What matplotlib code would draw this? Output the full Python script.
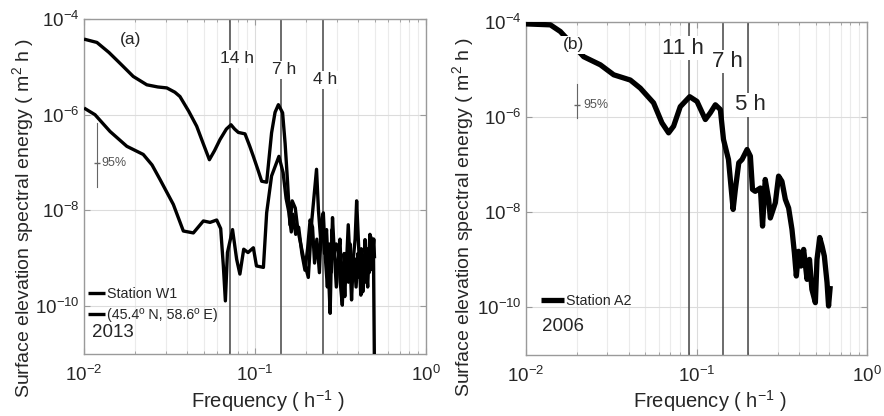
import numpy as np
import matplotlib
matplotlib.use("Agg")
import matplotlib.pyplot as plt
from matplotlib.ticker import FixedLocator, NullFormatter, LogLocator, NullLocator

plt.rcParams['font.family'] = ['Liberation Sans', 'DejaVu Sans']
plt.rcParams['mathtext.fontset'] = 'custom'
plt.rcParams['mathtext.rm'] = 'Liberation Sans'
plt.rcParams['mathtext.it'] = 'Liberation Sans:italic'

# ---- Station W1 (2013): two spectra, frequency in 1/h, log10 energy in m^2 h
w1_hi_freq = [0.0100, 0.0119, 0.0140, 0.0165, 0.0194, 0.0233, 0.0270, 0.0305, 0.0340,
              0.0364, 0.0410, 0.0456, 0.0500, 0.0541, 0.0580, 0.0624, 0.0680, 0.0724,
              0.0760, 0.0799, 0.0874, 0.0930, 0.0978, 0.1040, 0.1094, 0.1170, 0.1250,
              0.1310, 0.1370, 0.1450, 0.1500, 0.1550, 0.1600, 0.1650, 0.1720, 0.1780,
              0.1850, 0.1950, 0.2050, 0.2150, 0.2290, 0.2350, 0.2420, 0.2480, 0.2550,
              0.2620, 0.2690, 0.2750, 0.2820, 0.2900, 0.2980, 0.3070, 0.3150, 0.3240,
              0.3320, 0.3400, 0.3510, 0.3600, 0.3670, 0.3760, 0.3850, 0.3930, 0.4020,
              0.4100, 0.4160, 0.4250, 0.4340, 0.4400, 0.4480, 0.4560, 0.4640, 0.4700,
              0.4780, 0.4850, 0.4920, 0.5000]
w1_hi_log = [-4.42, -4.49, -4.70, -4.95, -5.20, -5.375, -5.42, -5.44, -5.53,
             -5.62, -5.93, -6.24, -6.62, -6.94, -6.75, -6.52, -6.30, -6.21,
             -6.30, -6.37, -6.40, -6.65, -6.87, -7.15, -7.39, -7.41, -6.38,
             -5.95, -5.79, -5.96, -6.60, -7.40, -8.30, -7.80, -7.95, -8.40,
             -8.70, -9.10, -9.40, -8.20, -7.14, -8.00, -8.60, -8.30, -8.90,
             -8.40, -9.30, -10.15, -8.40, -9.00, -8.70, -8.75, -9.50, -9.98,
             -8.90, -9.40, -8.30, -9.10, -9.87, -9.00, -8.60, -7.80, -8.60,
             -9.30, -9.77, -9.00, -9.50, -8.61, -9.20, -9.60, -8.90, -8.50,
             -9.00, -9.24, -8.60, -11.50]

w1_lo_freq = [0.0100, 0.0116, 0.0142, 0.0178, 0.0222, 0.0250, 0.0278, 0.0333, 0.0381,
              0.0436, 0.0499, 0.0546, 0.0597, 0.0630, 0.0653, 0.0671, 0.0690, 0.0739,
              0.0781, 0.0816, 0.0859, 0.0910, 0.0978, 0.1020, 0.1120, 0.1170, 0.1250,
              0.1380, 0.1460, 0.1520, 0.1580, 0.1630, 0.1670, 0.1730, 0.1800, 0.1880,
              0.1960, 0.2030, 0.2100, 0.2170, 0.2230, 0.2300, 0.2380, 0.2450, 0.2510,
              0.2580, 0.2650, 0.2710, 0.2780, 0.2840, 0.2910, 0.2990, 0.3060, 0.3140,
              0.3200, 0.3280, 0.3350, 0.3430, 0.3520, 0.3600, 0.3700, 0.3800, 0.3900,
              0.4000, 0.4080, 0.4180, 0.4270, 0.4350, 0.4450, 0.4550, 0.4650, 0.4750,
              0.4850, 0.4950, 0.5000]
w1_lo_log = [-5.86, -6.00, -6.35, -6.66, -6.83, -7.05, -7.35, -7.875, -8.43,
             -8.47, -8.22, -8.25, -8.20, -8.38, -9.16, -9.89, -8.88, -8.40,
             -9.02, -9.33, -8.81, -8.88, -8.78, -9.16, -9.19, -8.05, -7.28,
             -6.87, -7.21, -7.75, -8.05, -8.45, -8.08, -8.50, -8.35, -8.90,
             -9.25, -8.80, -8.20, -8.35, -9.10, -8.60, -9.30, -8.20, -8.05,
             -9.00, -9.60, -8.70, -9.30, -8.15, -8.90, -9.60, -9.00, -8.60,
             -9.40, -9.10, -9.80, -8.90, -9.50, -8.70, -9.30, -9.00, -9.60,
             -8.90, -9.40, -8.80, -9.70, -9.10, -9.50, -8.80, -9.30, -8.55,
             -9.00, -8.60, -9.00]

# ---- Station A2 (2006)
a2_freq = [0.0100, 0.0139, 0.0159, 0.0218, 0.0273, 0.0327, 0.0409, 0.0468, 0.0560,
           0.0627, 0.0686, 0.0734, 0.0803, 0.0912, 0.1007, 0.1127, 0.1205, 0.1290,
           0.1380, 0.1440, 0.1540, 0.1640, 0.1690, 0.1770, 0.1850, 0.1980, 0.2070,
           0.2130, 0.2210, 0.2370, 0.2440, 0.2530, 0.2650, 0.2710, 0.2900, 0.3030,
           0.3170, 0.3320, 0.3470, 0.3630, 0.3750, 0.3850, 0.3970, 0.4100, 0.4250,
           0.4450, 0.4600, 0.4750, 0.4980, 0.5090, 0.5280, 0.5450, 0.5620, 0.5830,
           0.5950, 0.6090]
a2_log = [-4.04, -4.06, -4.20, -4.73, -4.90, -5.11, -5.22, -5.39, -5.70,
          -6.12, -6.33, -6.19, -5.78, -5.57, -5.67, -6.05, -5.91, -5.74,
          -5.84, -6.47, -6.89, -7.94, -7.52, -6.96, -6.89, -6.68, -6.82,
          -7.52, -7.56, -7.49, -8.29, -7.31, -7.73, -8.12, -7.80, -7.24,
          -7.35, -7.73, -7.91, -8.36, -8.85, -9.34, -8.82, -9.13, -8.78,
          -9.41, -8.99, -9.62, -9.90, -8.99, -8.53, -8.71, -8.92, -9.48,
          -9.97, -9.55]

periods_a = [14, 7, 4]
periods_b = [11, 7, 5]

FIG_W, FIG_H = 884, 416
fig = plt.figure(figsize=(FIG_W / 100, FIG_H / 100), dpi=100)


def px_axes(l, t, r, b):
    return fig.add_axes([l / FIG_W, 1 - b / FIG_H, (r - l) / FIG_W, (b - t) / FIG_H])


ax_a = px_axes(84, 19, 426, 354)
ax_b = px_axes(526, 22, 867, 355)

SPINE = '#9a9a9a'
TXT = '#262626'

for ax in (ax_a, ax_b):
    ax.set_xscale('log')
    ax.set_yscale('log')
    ax.set_xlim(1e-2, 1e0)
    ax.set_ylim(1e-11, 1e-4)
    ax.yaxis.set_major_locator(FixedLocator([1e-10, 1e-8, 1e-6, 1e-4]))
    ax.yaxis.set_minor_locator(NullLocator())
    ax.xaxis.set_major_locator(FixedLocator([1e-2, 1e-1, 1e0]))
    ax.xaxis.set_minor_locator(LogLocator(base=10, subs=np.arange(2, 10)))
    ax.xaxis.set_minor_formatter(NullFormatter())
    ax.grid(True, which='major', color='#dcdcdc', lw=0.8)
    ax.grid(True, which='minor', axis='x', color='#ebebeb', lw=0.8)
    ax.set_axisbelow(True)
    for s in ax.spines.values():
        s.set_color(SPINE)
        s.set_linewidth(1.0)
    ax.tick_params(which='both', direction='in', top=True, right=True,
                   color=SPINE, labelcolor=TXT, labelsize=13.5)
    ax.tick_params(axis='x', pad=8)
    ax.tick_params(axis='y', pad=3)
    ax.tick_params(which='major', length=4)
    ax.tick_params(which='minor', length=2)

line_kw = dict(color='black', solid_joinstyle='round', solid_capstyle='butt', zorder=3)

# ---- panel (a)
l1, = ax_a.plot(w1_hi_freq, 10.0 ** np.array(w1_hi_log), lw=2.4, **line_kw)
l2, = ax_a.plot(w1_lo_freq, 10.0 ** np.array(w1_lo_log), lw=2.4, **line_kw)
for p in periods_a:
    ax_a.axvline(1.0 / p, color='#444444', lw=1.1, zorder=2)

lbl_kw = dict(ha='center', va='center', fontsize=12.5, color=TXT, zorder=5,
              bbox=dict(facecolor='white', edgecolor='none', pad=1.0))
ax_a.text(0.078, 10 ** -4.835, '14 h', **lbl_kw)
ax_a.text(0.148, 10 ** -5.065, '7 h', **lbl_kw)
ax_a.text(0.2566, 10 ** -5.27, '4 h', **lbl_kw)
ax_a.text(0.0188, 10 ** -4.42, '(a)', **lbl_kw)

ax_a.plot([0.01186, 0.01186], [10 ** -6.17, 10 ** -7.52], color='#666666', lw=0.8, zorder=4)
ax_a.plot([0.01186], [10 ** -7.0], marker='_', ms=4, color='#666666', zorder=4)
ax_a.text(0.0127, 10 ** -7.0, '95%', fontsize=9, color='#555555', va='center', ha='left')

ax_a.legend([l1, l2], ['Station W1', '(45.4º N, 58.6º E)'], loc='lower left',
            bbox_to_anchor=(0.012, 0.095), frameon=False, fontsize=10.3,
            handlelength=1.2, handletextpad=0.1, labelspacing=0.5,
            borderpad=0, borderaxespad=0, labelcolor=TXT)
ax_a.text(0.024, 0.063, '2013', transform=ax_a.transAxes, fontsize=13.5,
          color=TXT, ha='left', va='center')

# ---- panel (b)
l3, = ax_b.plot(a2_freq, 10.0 ** np.array(a2_log), lw=3.8, **line_kw)
for p in periods_b:
    ax_b.axvline(1.0 / p, color='#444444', lw=1.1, zorder=2)

lbl_kw_b = dict(lbl_kw)
lbl_kw_b['fontsize'] = 16
ax_b.text(0.0837, 10 ** -4.55, '11 h', **lbl_kw_b)
ax_b.text(0.151, 10 ** -4.83, '7 h', **lbl_kw_b)
ax_b.text(0.208, 10 ** -5.74, '5 h', **lbl_kw_b)
ax_b.text(0.0189, 10 ** -4.48, '(b)', **lbl_kw)

ax_b.plot([0.0199, 0.0199], [10 ** -5.30, 10 ** -6.02], color='#666666', lw=0.8, zorder=4)
ax_b.plot([0.0199], [10 ** -5.74], marker='_', ms=4, color='#666666', zorder=4)
ax_b.text(0.0218, 10 ** -5.74, '95%', fontsize=9, color='#555555', va='center', ha='left')

ax_b.legend([l3], ['Station A2'], loc='lower left',
            bbox_to_anchor=(0.045, 0.14), frameon=False, fontsize=10.3,
            handlelength=1.6, handletextpad=0.1,
            borderpad=0, borderaxespad=0, labelcolor=TXT)
ax_b.text(0.047, 0.085, '2006', transform=ax_b.transAxes, fontsize=13.5,
          color=TXT, ha='left', va='center')

# ---- axis titles
ylab = 'Surface elevation spectral energy ( m$^2$ h )'
xlab = 'Frequency ( h$^{-1}$ )'
fig.text(23 / FIG_W, 1 - 218 / FIG_H, ylab, rotation=90, ha='center', va='center',
         fontsize=14, color=TXT)
fig.text(463 / FIG_W, 1 - 217 / FIG_H, ylab, rotation=90, ha='center', va='center',
         fontsize=14, color=TXT)
fig.text(268 / FIG_W, 1 - 401 / FIG_H, xlab, ha='center', va='center',
         fontsize=14.5, color=TXT)
fig.text(710 / FIG_W, 1 - 401 / FIG_H, xlab, ha='center', va='center',
         fontsize=14.5, color=TXT)

fig.savefig('out.png', dpi=100, facecolor='white')
